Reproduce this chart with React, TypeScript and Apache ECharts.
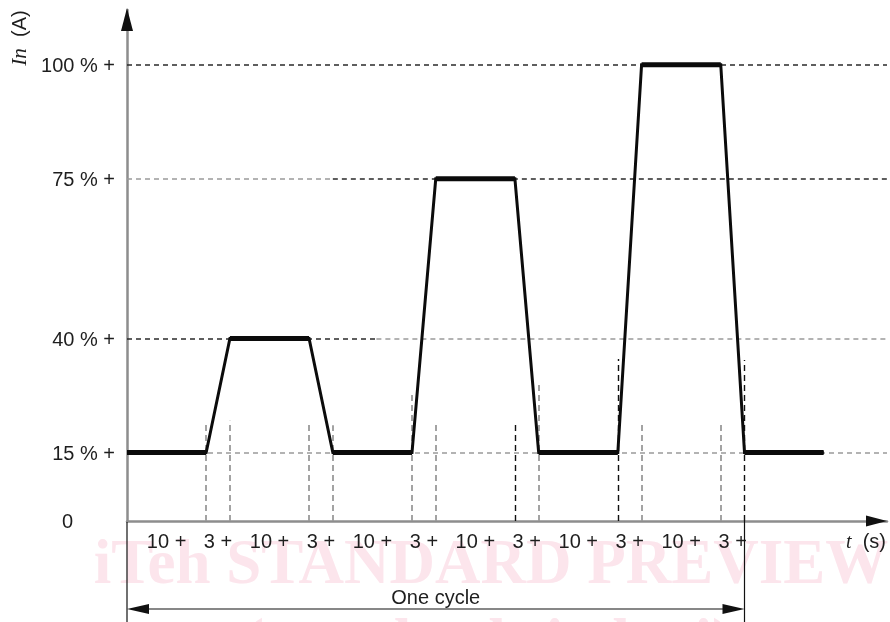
import React, { useEffect, useRef } from 'react';
import * as echarts from 'echarts';

// ---- data ----
const times = [0, 10, 13, 23, 26, 36, 39, 49, 52, 62, 65, 75, 78, 88];
const levels = [15, 15, 40, 40, 15, 15, 75, 75, 15, 15, 100, 100, 15, 15];
const segDurations = [10, 3, 10, 3, 10, 3, 10, 3, 10, 3, 10, 3];
const segLabels = ['10 +', '3 +', '10 +', '3 +', '10 +', '3 +', '10 +', '3 +', '10 +', '3 +', '10 +', '3 +'];
const yTickValues = [0, 15, 40, 75, 100];
const yTickLabels = ['0', '15 % +', '40 % +', '75 % +', '100 % +'];
const cycleLength = 78;
// vertical guide lines at each transition (time, height reached, dark?)
const guideTimes = [10, 13, 23, 26, 36, 39, 49, 52, 62, 65, 75, 78];
const guideTops = [21.5, 22, 21.5, 21, 28.3, 21.7, 21.5, 30.2, 35.5, 21.7, 21.3, 35.3];
const guideDark = [false, false, false, false, false, false, true, false, true, false, false, true];

const X_MAX = 96;
const Y_MAX = 112;
const SANS = '"Liberation Sans", Arial, sans-serif';
const SERIF = '"Liberation Serif", "Times New Roman", serif';
const TEXT = '#1e1e1e';
const AXIS = '#8d8d8d';
const DARK_DASH = '#2a2a2a';
const LIGHT_DASH = '#9a9a9a';
const WATERMARK = '#fce5ec';

export default function App() {
  const ref = useRef<HTMLDivElement>(null);

  useEffect(() => {
    if (!ref.current) return;
    const chart = echarts.init(ref.current, undefined, { renderer: 'svg' });

    // segment centres for x labels
    const centers: number[] = [];
    let acc = 0;
    segDurations.forEach((d) => {
      centers.push(acc + d / 2);
      acc += d;
    });
    const labelFor = (v: number) => {
      let best = 0;
      centers.forEach((c, i) => {
        if (Math.abs(c - v) < Math.abs(centers[best] - v)) best = i;
      });
      return segLabels[best];
    };

    const path = times.map((t, i) => [t, levels[i]]);
    const flats: number[][][] = [];
    for (let i = 0; i + 1 < times.length; i += 2) {
      flats.push([path[i], path[i + 1]]);
    }

    const dash = [5, 4];
    const hLines: any[] = [
      [{ coord: [0, 100] }, { coord: [X_MAX, 100], lineStyle: { color: DARK_DASH } }],
      [{ coord: [0, 75] }, { coord: [26, 75], lineStyle: { color: LIGHT_DASH } }],
      [{ coord: [26, 75] }, { coord: [X_MAX, 75], lineStyle: { color: DARK_DASH } }],
      [{ coord: [0, 40] }, { coord: [31.5, 40], lineStyle: { color: DARK_DASH } }],
      [{ coord: [31.5, 40] }, { coord: [X_MAX, 40], lineStyle: { color: LIGHT_DASH } }],
      [{ coord: [0, 15] }, { coord: [X_MAX, 15], lineStyle: { color: LIGHT_DASH } }],
    ];
    const vLines: any[] = guideTimes.map((t, i) => [
      { coord: [t, 0] },
      {
        coord: [t, guideTops[i]],
        lineStyle: { color: guideDark[i] ? '#111' : LIGHT_DASH, type: [6, 4], width: guideDark[i] ? 1.4 : 1.8 },
      },
    ]);

    const option: any = {
      animation: false,
      grid: { left: 127, right: 3, top: 10, bottom: 101, containLabel: false },
      xAxis: {
        type: 'value',
        min: 0,
        max: X_MAX,
        axisLine: { show: true, lineStyle: { color: AXIS, width: 2.5 } },
        axisTick: { show: false },
        splitLine: { show: false },
        axisLabel: {
          customValues: centers,
          formatter: (v: number) => labelFor(v),
          fontSize: 20,
          fontFamily: SANS,
          color: TEXT,
          margin: 10,
          hideOverlap: false,
        },
      },
      yAxis: {
        type: 'value',
        min: 0,
        max: Y_MAX,
        axisLine: { show: true, lineStyle: { color: AXIS, width: 2.5 } },
        axisTick: { show: false },
        splitLine: { show: false },
        axisLabel: {
          customValues: yTickValues,
          formatter: (v: number) => {
            const i = yTickValues.indexOf(v);
            if (v === 0) return '{z|0}';
            return i >= 0 ? yTickLabels[i] : '';
          },
          fontSize: 20,
          fontFamily: SANS,
          color: TEXT,
          margin: 12,
          rich: { z: { fontSize: 20, fontFamily: SANS, color: TEXT, padding: [0, 42, 0, 0] } },
        },
      },
      series: [
        {
          type: 'line',
          data: path,
          symbol: 'none',
          z: 3,
          silent: true,
          lineStyle: { color: '#0b0b0b', width: 3, join: 'miter' },
          markLine: {
            silent: true,
            z: 1,
            symbol: ['none', 'none'],
            label: { show: false },
            lineStyle: { type: dash, width: 1.6 },
            data: [...hLines, ...vLines],
          },
        },
        ...flats.map((f) => ({
          type: 'line',
          data: f,
          symbol: 'none',
          z: 4,
          silent: true,
          lineStyle: { color: '#0b0b0b', width: 5, cap: 'butt' },
        })),
      ],
    };
    chart.setOption(option);

    const p = (x: number, y: number) => chart.convertToPixel({ gridIndex: 0 }, [x, y]) as number[];
    const origin = p(0, 0);
    const yTop = p(0, Y_MAX);
    const xEnd = p(X_MAX, 0);
    const cycEnd = p(cycleLength, 0);
    const H = 622;
    const arrowY = origin[1] + 88;

    chart.setOption({
      graphic: [
        {
          type: 'text',
          z: -10,
          silent: true,
          style: {
            text: 'iTeh STANDARD PREVIEW',
            x: 491,
            y: 562,
            align: 'center',
            verticalAlign: 'middle',
            font: 'bold 63px ' + SERIF,
            fill: WATERMARK,
          },
        },
        {
          type: 'text',
          z: -10,
          silent: true,
          style: {
            text: '(standards.iteh.ai)',
            x: 488,
            y: 641,
            align: 'center',
            verticalAlign: 'middle',
            font: 'bold 63px ' + SERIF,
            fill: WATERMARK,
          },
        },
        {
          type: 'polygon',
          z: 50,
          silent: true,
          shape: { points: [[yTop[0], yTop[1] - 2], [yTop[0] - 6, yTop[1] + 21], [yTop[0] + 6, yTop[1] + 21]] },
          style: { fill: '#111' },
        },
        {
          type: 'polygon',
          z: 50,
          silent: true,
          shape: { points: [[xEnd[0], xEnd[1]], [xEnd[0] - 21, xEnd[1] - 5.5], [xEnd[0] - 21, xEnd[1] + 5.5]] },
          style: { fill: '#111' },
        },
        {
          type: 'line',
          z: 50,
          silent: true,
          shape: { x1: origin[0], y1: origin[1] + 1, x2: origin[0], y2: H },
          style: { stroke: '#111', lineWidth: 1.2 },
        },
        {
          type: 'line',
          z: 50,
          silent: true,
          shape: { x1: cycEnd[0], y1: origin[1], x2: cycEnd[0], y2: H },
          style: { stroke: '#111', lineWidth: 1.2 },
        },
        {
          type: 'line',
          z: 50,
          silent: true,
          shape: { x1: origin[0] + 10, y1: arrowY, x2: cycEnd[0] - 10, y2: arrowY },
          style: { stroke: '#111', lineWidth: 1.2 },
        },
        {
          type: 'polygon',
          z: 50,
          silent: true,
          shape: { points: [[origin[0], arrowY], [origin[0] + 22, arrowY - 5], [origin[0] + 22, arrowY + 5]] },
          style: { fill: '#111' },
        },
        {
          type: 'polygon',
          z: 50,
          silent: true,
          shape: { points: [[cycEnd[0], arrowY], [cycEnd[0] - 22, arrowY - 5], [cycEnd[0] - 22, arrowY + 5]] },
          style: { fill: '#111' },
        },
        {
          type: 'text',
          z: 50,
          silent: true,
          style: {
            text: 'One cycle',
            x: (origin[0] + cycEnd[0]) / 2,
            y: arrowY - 12,
            align: 'center',
            verticalAlign: 'middle',
            font: '20px ' + SANS,
            fill: TEXT,
          },
        },
        {
          type: 'text',
          z: 50,
          silent: true,
          x: 866,
          y: 541,
          style: {
            text: '{i|t}  (s)',
            x: 0,
            y: 0,
            align: 'center',
            verticalAlign: 'middle',
            font: '20px ' + SANS,
            fill: TEXT,
            rich: { i: { fontFamily: SERIF, fontStyle: 'italic', fontSize: 20, fill: TEXT } },
          },
        },
        {
          type: 'text',
          z: 50,
          silent: true,
          x: 19,
          y: 38,
          rotation: Math.PI / 2,
          style: {
            text: '{i|In}  (A)',
            x: 0,
            y: 0,
            align: 'center',
            verticalAlign: 'middle',
            font: '20px ' + SANS,
            fill: TEXT,
            rich: { i: { fontFamily: SERIF, fontStyle: 'italic', fontSize: 21, fill: TEXT } },
          },
        },
      ],
    });

    return () => chart.dispose();
  }, []);

  return <div ref={ref} style={{ position: 'fixed', left: 0, top: 0, width: 890, height: 622 }} />;
}
